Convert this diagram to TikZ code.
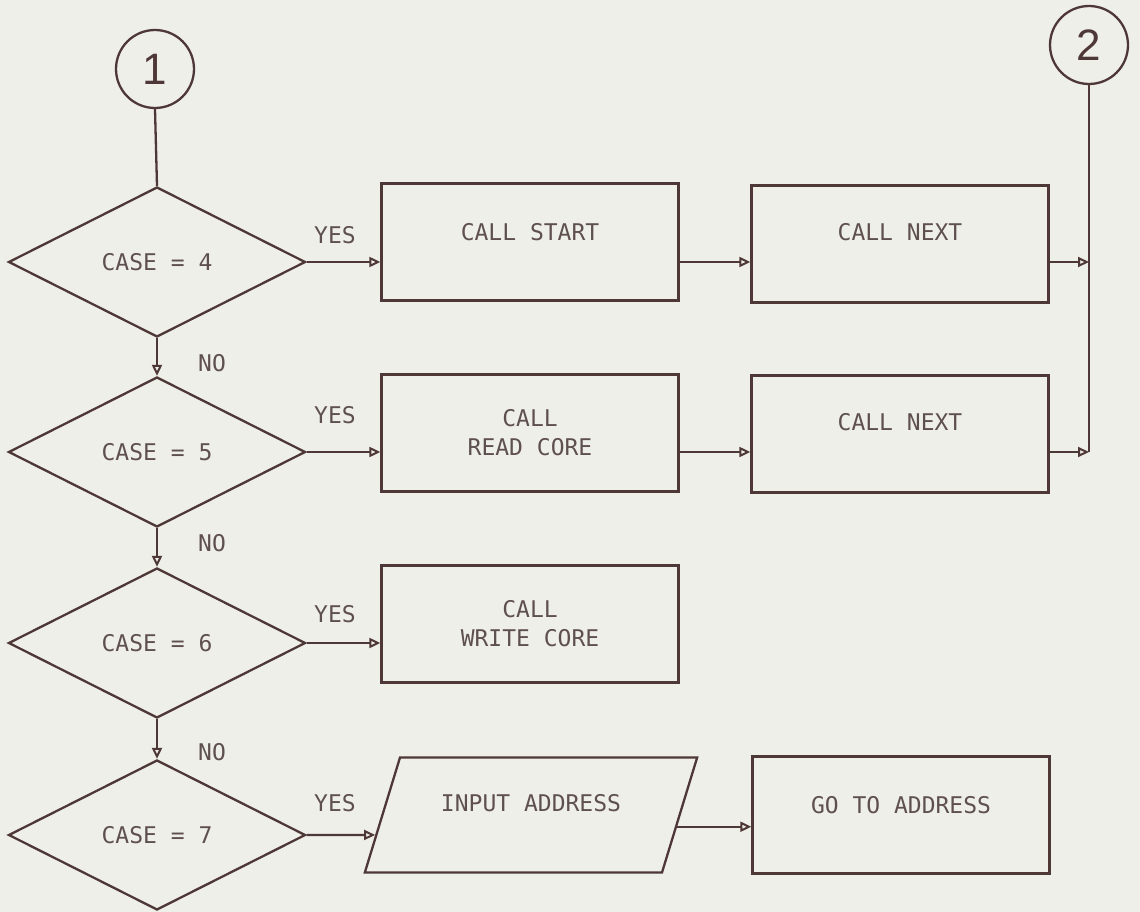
\documentclass[tikz,border=0pt]{standalone}
\usepackage{fontspec}
\usetikzlibrary{arrows.meta,shapes.geometric,calc}
\newfontfamily\plotfont{DejaVu Sans Mono}
\newfontfamily\handfont{Liberation Sans}
\definecolor{ink}{RGB}{78,55,55}
\definecolor{txtc}{RGB}{95,80,80}
\definecolor{paper}{RGB}{239,239,234}
\begin{document}
\begin{tikzpicture}[x=1pt,y=-1pt,
  pf/.style={font=\plotfont\fontsize{23}{29}\selectfont, text=txtc},
  dec/.style={diamond, draw=ink, line width=2.3pt, minimum width=297pt, minimum height=150pt, inner sep=0pt, shape aspect=2, pf},
  box/.style={rectangle, draw=ink, line width=2.3pt, minimum width=297pt, minimum height=117pt, inner sep=0pt, align=center, pf},
  io/.style={trapezium, draw=ink, line width=2.3pt, trapezium left angle=73, trapezium right angle=107, inner xsep=131pt, inner ysep=57.5pt, pf},
  conn/.style={circle, draw=ink, line width=2.3pt, minimum size=78pt, inner sep=0pt, font=\handfont\fontsize{44}{48}\selectfont, text=ink},
  lbl/.style={pf, inner sep=0pt},
  wire/.style={draw=ink, line width=2.3pt},
  flow/.style={wire, -{Triangle[open,length=11pt,width=10pt,line width=2pt]}}
]
\fill[paper] (0,0) rectangle (1140,912);
\useasboundingbox (0,0) rectangle (1140,912);

% connectors (circles)
\node[conn] (c1) at (155,69) {1};
\node[conn] (c2) at (1089,45) {2};

% decisions
\node[dec] (d1) at (157,262) {CASE = 4};
\node[dec] (d2) at (157,452) {CASE = 5};
\node[dec] (d3) at (157,643) {CASE = 6};
\node[dec] (d4) at (157,835) {CASE = 7};

% process boxes
\node[box, label={[lbl,yshift=10pt]center:CALL START}] (b1) at (530,242) {};
\node[box, label={[lbl,yshift=12pt]center:CALL NEXT}] (b2) at (900,244) {};
\node[box] (b3) at (530,433) {CALL\\READ CORE};
\node[box, label={[lbl,yshift=12pt]center:CALL NEXT}] (b4) at (900,434) {};
\node[box] (b5) at (530,624) {CALL\\WRITE CORE};
\node[io, label={[lbl,yshift=12pt]center:INPUT ADDRESS}] (p) at (531,815) {};
\node[box, label={[lbl,yshift=10pt]center:GO TO ADDRESS}] (b6) at (901,815) {};

% bus from connector 2
\coordinate (bus) at (1089,452);
\draw[wire] (c2.south) -- (bus);

% vertical flow
\draw[wire] (c1.south) -- (d1.north);
\draw[flow] (d1.south) -- (d2.north);
\draw[flow] (d2.south) -- (d3.north);
\draw[flow] (d3.south) -- (d4.north);

% row 1
\draw[flow] (d1.east) -- (d1.east -| b1.west);
\draw[flow] (b1.east |- d1.east) -- (d1.east -| b2.west);
\draw[flow] (b2.east |- d1.east) -- (d1.east -| bus);
% row 2
\draw[flow] (d2.east) -- (d2.east -| b3.west);
\draw[flow] (b3.east |- d2.east) -- (d2.east -| b4.west);
\draw[flow] (b4.east |- d2.east) -- (bus);
% row 3
\draw[flow] (d3.east) -- (d3.east -| b5.west);
% row 4
\coordinate (pin) at ($(p.bottom left corner)!0.33!(p.top left corner)$);
\coordinate (pout) at ($(p.bottom right corner)!0.4!(p.top right corner)$);
\draw[flow] (d4.east) -- (pin);
\draw[flow] (pout) -- (pout -| b6.west);

% labels
\node[lbl] (y1) at (335,235) {YES};
\node[lbl] (y2) at (335,415) {YES};
\node[lbl] (y3) at (335,614) {YES};
\node[lbl] (y4) at (335,803) {YES};
\node[lbl] (n1) at (212,363) {NO};
\node[lbl] (n2) at (212,543) {NO};
\node[lbl] (n3) at (212,752) {NO};
\end{tikzpicture}
\end{document}
